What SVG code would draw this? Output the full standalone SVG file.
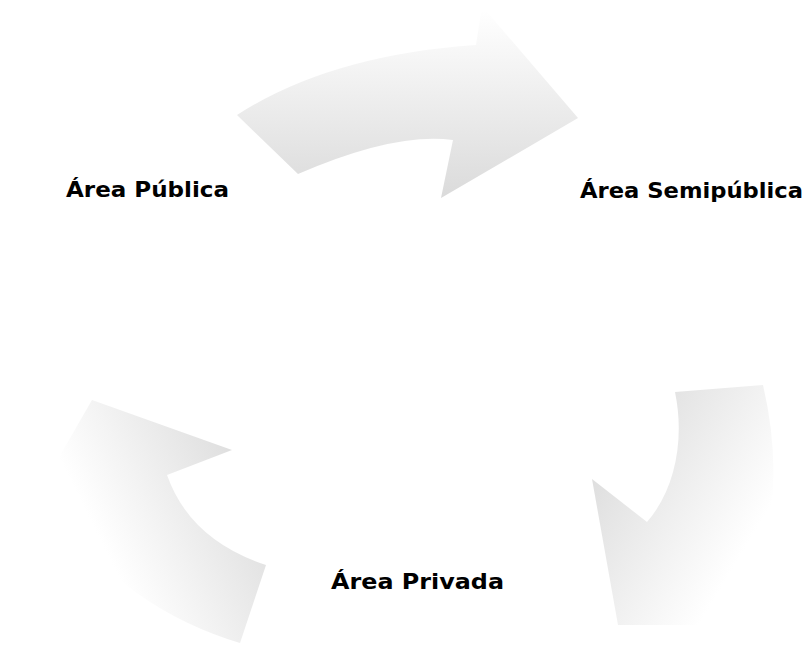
<svg xmlns="http://www.w3.org/2000/svg" width="808" height="645" viewBox="0 0 808 645">
  <style>
    .label { font-family: "DejaVu Sans", "Liberation Sans", Arial, sans-serif; font-weight: bold; font-size: 20.5px; fill: #000000; }
  </style>
  <defs>
    <linearGradient id="gTop" gradientUnits="userSpaceOnUse" x1="0" y1="10" x2="0" y2="200">
      <stop offset="0" stop-color="#ffffff"/>
      <stop offset="1" stop-color="#dadada"/>
    </linearGradient>
    <linearGradient id="gRight" gradientUnits="userSpaceOnUse" x1="600" y1="450" x2="750" y2="540">
      <stop offset="0" stop-color="#dddddd"/>
      <stop offset="1" stop-color="#ffffff"/>
    </linearGradient>
    <linearGradient id="gLeft" gradientUnits="userSpaceOnUse" x1="250" y1="465" x2="100" y2="540">
      <stop offset="0" stop-color="#dddddd"/>
      <stop offset="1" stop-color="#ffffff"/>
    </linearGradient>
  </defs>
  <rect width="808" height="645" fill="#ffffff"/>
  <g id="connectors">
    <path id="arrow-top" fill="url(#gTop)" d="M237,115 Q330,55 476,45 L482,6 L578,118 L441,198 L453,140 Q395,132 298,174 Z"/>
    <path id="arrow-right" fill="url(#gRight)" d="M763,385 L675,392 C685,440 675,490 647,522 L592,479 L618,625 L777,625 L747,600 Q790,500 763,385 Z"/>
    <path id="arrow-left" fill="url(#gLeft)" d="M92,400 L232,450 L167,475 Q190,540 266,565 L240,643 Q130,610 60,518 L13,537 Z"/>
  </g>
  <g id="node-publica">
    <text class="label" x="66" y="197" textLength="163" lengthAdjust="spacingAndGlyphs">Área Pública</text>
  </g>
  <g id="node-semipublica">
    <text class="label" x="580" y="198" textLength="223" lengthAdjust="spacingAndGlyphs">Área Semipública</text>
  </g>
  <g id="node-privada">
    <text class="label" x="331" y="589" textLength="173" lengthAdjust="spacingAndGlyphs">Área Privada</text>
  </g>
</svg>
